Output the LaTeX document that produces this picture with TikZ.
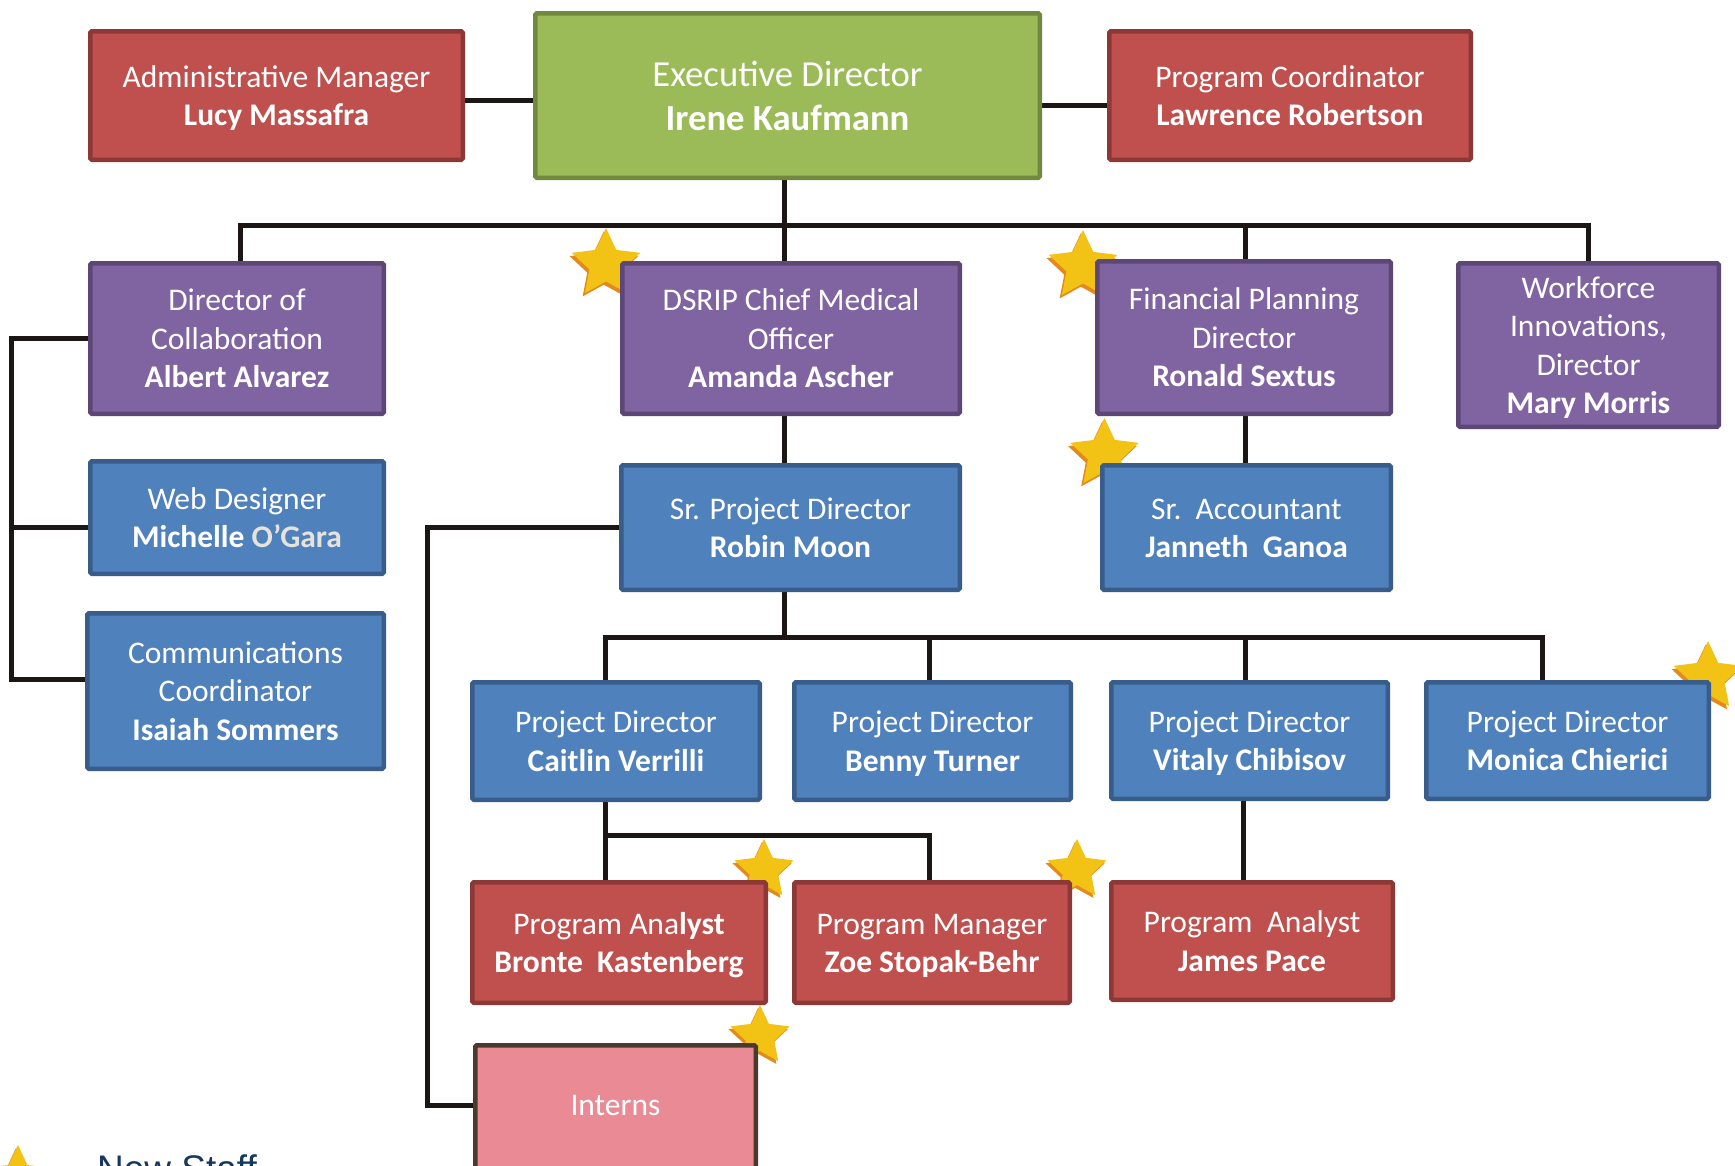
\documentclass[tikz,border=0pt]{standalone}
\usepackage{fontspec}
\setmainfont{Carlito}
\newfontfamily\legendfont{Liberation Sans}
\definecolor{redfill}{HTML}{C0504D}
\definecolor{redline}{HTML}{8C3836}
\definecolor{greenfill}{HTML}{9BBB59}
\definecolor{greenline}{HTML}{71893F}
\definecolor{purplefill}{HTML}{8064A2}
\definecolor{purpleline}{HTML}{5C4776}
\definecolor{bluefill}{HTML}{4F81BD}
\definecolor{blueline}{HTML}{385D8A}
\definecolor{pinkfill}{HTML}{E98A94}
\definecolor{pinkline}{HTML}{4A3A2C}
\definecolor{starfill}{HTML}{F2C314}
\definecolor{starshadow}{HTML}{E48A1C}
\definecolor{conncol}{HTML}{1C1714}
\definecolor{navy}{HTML}{17375E}
\definecolor{ogara}{HTML}{E6E4DA}
% struts that fix the first-line height and last-line depth of box texts
\newcommand\ts{\rule{0pt}{30pt}}
\newcommand\bs{\rule[-8.5pt]{0pt}{8.5pt}}
\newcommand\tse{\rule{0pt}{35pt}}
\newcommand\bse{\rule[-9pt]{0pt}{9pt}}
\pgfdeclarelayer{back}
\pgfdeclarelayer{bg}
\pgfsetlayers{back,bg,main}
\tikzset{
  box/.style={rectangle, line width=4.5pt, rounded corners=1.5pt, inner sep=0pt,
    align=center, text=white, font=\fontsize{31.5}{38.5}\selectfont},
  redbox/.style={box, fill=redfill, draw=redline},
  greenbox/.style={box, fill=greenfill, draw=greenline},
  purplebox/.style={box, fill=purplefill, draw=purpleline},
  bluebox/.style={box, fill=bluefill, draw=blueline},
  pinkbox/.style={box, fill=pinkfill, draw=pinkline},
  conn/.style={line width=5pt, draw=conncol},
  bigstar/.style={scale=1.09},
  smallstar/.style={scale=0.94},
  newstar/.pic={
    \fill[starshadow, shift={(-2pt,-3pt)}] (90:33pt) -- (126:16pt) -- (162:33pt) -- (198:16pt) -- (234:33pt) -- (270:16pt) -- (306:33pt) -- (342:16pt) -- (18:33pt) -- (54:16pt) -- cycle;
    \fill[starfill] (90:33pt) -- (126:16pt) -- (162:33pt) -- (198:16pt) -- (234:33pt) -- (270:16pt) -- (306:33pt) -- (342:16pt) -- (18:33pt) -- (54:16pt) -- cycle;
  }
}
\begin{document}
\begin{tikzpicture}[x=1pt,y=-1pt]
\begin{pgfonlayer}{back}
\fill[white] (0,0) rectangle (1735,1165);
\end{pgfonlayer}
\useasboundingbox (0,0) rectangle (1735,1165);

% boxes
\node[redbox, minimum width=372.5pt, minimum height=128.5pt] (admin) at (276.5,95.5) {\ts Administrative Manager\\\textbf{Lucy Massafra}\bs};
\node[greenbox, minimum width=504.5pt, minimum height=164.5pt, font=\fontsize{36.7}{44.8}\selectfont] (exec) at (787.5,95.5) {\tse Executive Director\\\textbf{Irene Kaufmann}\bse};
\node[redbox, minimum width=361.5pt, minimum height=128.5pt] (progcoord) at (1290,95.5) {\ts Program Coordinator\\\textbf{Lawrence Robertson}\bs};

\node[purplebox, minimum width=293.5pt, minimum height=150.5pt] (dircol) at (237,338.5) {\ts Director of\\Collaboration\\\textbf{Albert Alvarez}\bs};
\node[purplebox, minimum width=337.5pt, minimum height=150.5pt] (dsrip) at (791,338.5) {\ts DSRIP Chief Medical\\Officer\\\textbf{Amanda Ascher}\bs};
\node[purplebox, minimum width=293.5pt, minimum height=152.5pt] (finplan) at (1244,337.5) {\ts Financial Planning\\Director\\\textbf{Ronald Sextus}\bs};
\node[purplebox, minimum width=260.5pt, minimum height=163.5pt] (workforce) at (1588.5,345) {\ts Workforce\\Innovations,\\Director\\\textbf{Mary Morris}\bs};

\node[bluebox, minimum width=293.5pt, minimum height=112.5pt] (webdes) at (237,517.5) {\ts Web Designer\\\textbf{Michelle \textcolor{ogara}{O’Gara}}\bs};
\node[bluebox, minimum width=296.5pt, minimum height=155.5pt] (comms) at (235.5,691) {\ts Communications\\Coordinator\\\textbf{Isaiah Sommers}\bs};
\node[bluebox, minimum width=338.5pt, minimum height=124.5pt] (srpd) at (790.5,527.5) {\ts Sr. Project Director\\\textbf{Robin Moon}\bs};
\node[bluebox, minimum width=288.5pt, minimum height=124.5pt] (sracct) at (1246.5,527.5) {\ts Sr.\ \ Accountant\\\textbf{Janneth\ \ Ganoa}\bs};

\node[bluebox, minimum width=287.5pt, minimum height=117.5pt] (pdcv) at (616,741) {\ts Project Director\\\textbf{Caitlin Verrilli}\bs};
\node[bluebox, minimum width=276.5pt, minimum height=117.5pt] (pdbt) at (932.5,741) {\ts Project Director\\\textbf{Benny Turner}\bs};
\node[bluebox, minimum width=276.5pt, minimum height=116.5pt] (pdvc) at (1249.5,740.5) {\ts Project Director\\\textbf{Vitaly Chibisov}\bs};
\node[bluebox, minimum width=282.5pt, minimum height=116.5pt] (pdmc) at (1567.5,740.5) {\ts Project Director\\\textbf{Monica Chierici}\bs};

\node[redbox, minimum width=293.5pt, minimum height=120.5pt] (pab) at (619,942.5) {\ts Program Ana\textbf{lyst}\\\textbf{Bronte\ \ Kastenberg}\bs};
\node[redbox, minimum width=275.5pt, minimum height=120.5pt] (pmz) at (932,942.5) {\ts Program Manager\\\textbf{Zoe Stopak-Behr}\bs};
\node[redbox, minimum width=281.5pt, minimum height=117.5pt] (paj) at (1252,941) {\ts Program\ \ Analyst\\\textbf{James Pace}\bs};

\node[pinkbox, minimum width=280.5pt, minimum height=142.5pt] (interns) at (615.5,1116.5) {\rule[-24pt]{0pt}{45pt}Interns};

% legend
\node[anchor=base west, inner sep=0pt, text=navy, font=\legendfont\fontsize{37}{44}\selectfont] (legend) at (97,1181) {New Staff};

% junction points
\coordinate (j0) at (784,225);
\coordinate (jL) at (240,225);
\coordinate (jF) at (1245,225);
\coordinate (jR) at (1588,225);
\coordinate (lb) at (11,679);
\coordinate (ic) at (427,1105);
\coordinate (k0) at (784,637);
\coordinate (kL) at (605,637);
\coordinate (kB) at (929.5,637);
\coordinate (kV) at (1245,637);
\coordinate (kR) at (1542,637);
\coordinate (m) at (605,835);
\coordinate (n) at (1243,800);

\begin{pgfonlayer}{bg}
\draw[conn] ([yshift=-5pt]admin.east) -- ([yshift=-5pt]admin.east -| exec.west);
\draw[conn] ([yshift=-9.5pt]exec.east) -- ([yshift=-9.5pt]exec.east -| progcoord.west);
\draw[conn] (j0 |- exec.south) -- (j0);
\draw[conn] (jL |- dircol.north) -- (jL) -- (jR) -- (jR |- workforce.north);
\draw[conn] (j0) -- (j0 |- dsrip.north);
\draw[conn] (jF) -- (jF |- finplan.north);
\draw[conn] (j0 |- dsrip.south) -- (j0 |- srpd.north);
\draw[conn] (jF |- finplan.south) -- (jF |- sracct.north);
\draw[conn] (dircol.west) -| (lb) -- (lb -| comms.west);
\draw[conn] ([yshift=-9.5pt]webdes.west) -- ([yshift=-9.5pt]webdes.west -| lb);
\draw[conn] (srpd.west) -| (ic) -- (ic -| interns.west);
\draw[conn] (k0 |- srpd.south) -- (k0);
\draw[conn] (kL |- pdcv.north) -- (kL) -- (kR) -- (kR |- pdmc.north);
\draw[conn] (kB) -- (kB |- pdbt.north);
\draw[conn] (kV) -- (kV |- pdvc.north);
\draw[conn] (kL |- pdcv.south) -- (kL |- pab.north);
\draw[conn] (m) -| (kB |- pmz.north);
\draw[conn] (n |- pdvc.south) -- (n |- paj.north);
% stars (new staff markers)
\pic[bigstar] at (606,264) {newstar};
\pic[bigstar] at (1083,266) {newstar};
\pic[bigstar] at (1104.5,454) {newstar};
\pic[bigstar] at (1708,677) {newstar};
\pic[smallstar] at (764,870) {newstar};
\pic[smallstar] at (1077,870) {newstar};
\pic[smallstar] at (760,1036) {newstar};
\pic at (18,1178) {newstar};
\end{pgfonlayer}
\end{tikzpicture}
\end{document}
